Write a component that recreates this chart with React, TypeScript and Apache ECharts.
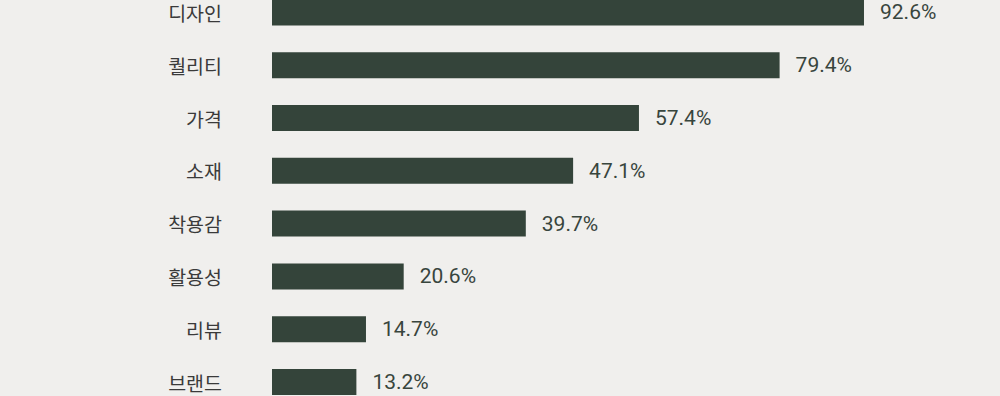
import React, { useEffect, useRef } from "react";
import * as echarts from "echarts";

const categories = ["디자인", "퀄리티", "가격", "소재", "착용감", "활용성", "리뷰", "브랜드"];
const values = [92.6, 79.4, 57.4, 47.1, 39.7, 20.6, 14.7, 13.2];

export default function App() {
  const ref = useRef<HTMLDivElement>(null);
  useEffect(() => {
    if (!ref.current) return;
    const chart = echarts.init(ref.current, null, { renderer: "svg" });
    chart.setOption({
      animation: false,
      backgroundColor: "#f0efed",
      grid: { left: 272, width: 639.3, top: 0, height: 422.4 },
      xAxis: { type: "value", min: 0, max: 100, show: false },
      yAxis: {
        type: "category",
        inverse: true,
        data: categories,
        axisLine: { show: false },
        axisTick: { show: false },
        axisLabel: {
          margin: 50,
          fontSize: 19.5,
          lineHeight: 20,
          color: "#3a3a3a",
          fontFamily: "Noto Sans CJK KR",
        },
      },
      series: [
        {
          type: "bar",
          data: values,
          barWidth: 26,
          itemStyle: { color: "#34443a" },
          label: {
            show: true,
            position: "right",
            distance: 16,
            formatter: "{c}%",
            fontSize: 21,
            lineHeight: 22,
            color: "#38453d",
            fontFamily: "Roboto",
          },
        },
      ],
    });
    return () => chart.dispose();
  }, []);
  return (
    <div style={{ position: "absolute", left: 0, top: 0, width: 1000, height: 396, overflow: "hidden", background: "#f0efed" }}>
      <div ref={ref} style={{ position: "absolute", left: 0, top: -14, width: 1000, height: 424 }} />
    </div>
  );
}
